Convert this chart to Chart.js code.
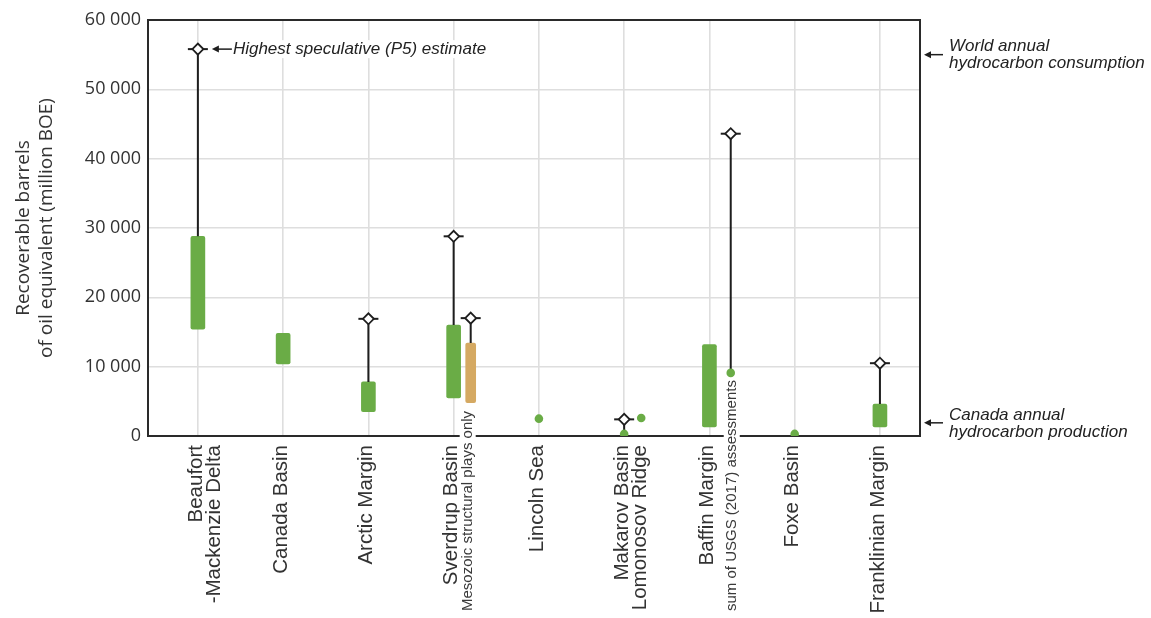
<!DOCTYPE html>
<html>
<head>
<meta charset="utf-8">
<script src="https://cdn.jsdelivr.net/npm/chart.js@4/dist/chart.umd.min.js"></script>
<style>
    body { margin: 0; background: #ffffff; }
    #wrap { width: 1151px; height: 618px; }
</style>
</head>
<body>
<div id="wrap"><canvas id="resourceChart" width="1151" height="618"></canvas></div>
<script>
// Hydrocarbon resource estimates per basin (million BOE).

var categories = [
    ["Beaufort", "-Mackenzie Delta"],
    "Canada Basin",
    "Arctic Margin",
    "Sverdrup Basin",
    "Lincoln Sea",
    ["Makarov Basin", "Lomonosov Ridge"],
    "Baffin Margin",
    "Foxe Basin",
    "Franklinian Margin"
];
var yTicks = [0, 10000, 20000, 30000, 40000, 50000, 60000];

// Green ranges (low - high estimate)
var rangePos = [0, 1, 2, 3, 6, 8];
var rangeLow = [15400, 10400, 3500, 5500, 1300, 1300];
var rangeHigh = [28800, 14800, 7800, 16000, 13200, 4600];

// Sverdrup Basin, Mesozoic structural plays only
var mesozoicPos = [3.2];
var mesozoicLow = [4800];
var mesozoicHigh = [13400];

// Single estimates (dots)
var pointPos = [4, 5, 5.2, 6.25, 7];
var pointValue = [2500, 300, 2600, 9100, 300];

// Highest speculative (P5) estimates and the value the whisker starts from
var p5Pos = [0, 2, 3, 3.2, 5, 6.25, 8];
var p5Base = [28800, 7800, 16000, 13400, 300, 9100, 4600];
var p5Value = [55800, 16900, 28800, 17000, 2400, 43600, 10500];

// Reference levels on the right side
var worldConsumption = 55000;
var canadaProduction = 1900;

var GREEN = "#6aac46";
var TAN = "#d5a962";
var INK = "#1e1e1e";

function formatThousands(value) {
    return String(value).replace(/\B(?=(\d{3})+(?!\d))/g, " ");
}

function buildRangeData(pos, low, high) {
    var data = [];
    for (var i = 0; i < pos.length; i++) {
        data.push({ x: pos[i], y: [low[i], high[i]] });
    }
    return data;
}

function buildPoints(pos, values) {
    var data = [];
    for (var i = 0; i < pos.length; i++) {
        data.push({ x: pos[i], y: values[i] });
    }
    return data;
}

function buildWhiskers() {
    var data = [];
    for (var i = 0; i < p5Pos.length; i++) {
        data.push({ x: p5Pos[i], y: p5Base[i] });
        data.push({ x: p5Pos[i], y: p5Value[i] });
        data.push({ x: p5Pos[i], y: null });
    }
    return data;
}

function drawArrow(ctx, headX, tailX, y) {
    ctx.beginPath();
    ctx.moveTo(tailX, y);
    ctx.lineTo(headX + 4, y);
    ctx.stroke();
    ctx.beginPath();
    ctx.moveTo(headX, y);
    ctx.lineTo(headX + 7, y - 3.5);
    ctx.lineTo(headX + 7, y + 3.5);
    ctx.closePath();
    ctx.fill();
}

function drawRotatedNote(ctx, text, x, y) {
    ctx.save();
    ctx.translate(x, y);
    ctx.rotate(-Math.PI / 2);
    ctx.font = "15px 'Liberation Sans', Arial, sans-serif";
    var w = ctx.measureText(text).width;
    ctx.fillStyle = "#ffffff";
    ctx.fillRect(-1, -8, w + 2, 16);
    ctx.fillStyle = "#3a3a3a";
    ctx.textAlign = "left";
    ctx.textBaseline = "middle";
    ctx.fillText(text, 0, 0);
    ctx.restore();
}

var framePlugin = {
    id: "frame",
    beforeDatasetsDraw: function (chart) {
        var ctx = chart.ctx;
        var a = chart.chartArea;
        ctx.save();
        ctx.strokeStyle = "#2a2a2a";
        ctx.lineWidth = 2;
        ctx.strokeRect(a.left, a.top, a.right - a.left, a.bottom - a.top);
        ctx.restore();
    }
};

var notePlugin = {
    id: "notes",
    afterDraw: function (chart) {
        var ctx = chart.ctx;
        var xs = chart.scales.x;
        var ys = chart.scales.y;
        var a = chart.chartArea;

        ctx.save();
        ctx.strokeStyle = INK;
        ctx.fillStyle = INK;
        ctx.lineWidth = 1.5;

        // P5 label next to the Beaufort marker
        var px = xs.getPixelForValue(p5Pos[0]);
        var py = ys.getPixelForValue(p5Value[0]);
        ctx.font = "italic 17px 'Liberation Sans', Arial, sans-serif";
        var label = "Highest speculative (P5) estimate";
        var lw = ctx.measureText(label).width;
        ctx.fillStyle = "#ffffff";
        ctx.fillRect(px + 34, py - 9, lw + 3, 18);
        ctx.fillStyle = INK;
        drawArrow(ctx, px + 14, px + 34, py);
        ctx.fillStyle = "#222222";
        ctx.textAlign = "left";
        ctx.textBaseline = "middle";
        ctx.fillText(label, px + 35, py);

        // Right side reference levels
        var levels = [
            { value: worldConsumption, lines: ["World annual", "hydrocarbon consumption"] },
            { value: canadaProduction, lines: ["Canada annual", "hydrocarbon production"] }
        ];
        for (var i = 0; i < levels.length; i++) {
            var ly = ys.getPixelForValue(levels[i].value);
            ctx.fillStyle = INK;
            drawArrow(ctx, a.right + 4, a.right + 23, ly);
            ctx.fillStyle = "#222222";
            ctx.fillText(levels[i].lines[0], a.right + 29, ly - 8);
            ctx.fillText(levels[i].lines[1], a.right + 29, ly + 9);
        }

        // Sub labels under two categories
        drawRotatedNote(ctx, "Mesozoic structural plays only", xs.getPixelForValue(mesozoicPos[0]) - 3, 611);
        drawRotatedNote(ctx, "sum of USGS (2017) assessments", xs.getPixelForValue(pointPos[3]) + 1, 611);

        ctx.restore();
    }
};

new Chart(document.getElementById("resourceChart"), {
    type: "scatter",
    data: {
        datasets: [
            {
                label: "P5",
                type: "scatter",
                data: buildPoints(p5Pos, p5Value),
                pointStyle: "rectRot",
                pointRadius: 5.5,
                pointBackgroundColor: "#ffffff",
                pointBorderColor: INK,
                pointBorderWidth: 1.8
            },
            {
                label: "Single estimate",
                type: "scatter",
                data: buildPoints(pointPos, pointValue),
                pointRadius: 4.3,
                pointBackgroundColor: GREEN,
                pointBorderWidth: 0
            },
            {
                label: "Cap",
                type: "scatter",
                data: buildPoints(p5Pos, p5Value),
                pointStyle: "line",
                pointRadius: 10,
                pointBorderColor: INK,
                pointBorderWidth: 2
            },
            {
                label: "Whisker",
                type: "line",
                data: buildWhiskers(),
                borderColor: INK,
                borderWidth: 2,
                pointRadius: 0,
                spanGaps: false,
                fill: false
            },
            {
                label: "Range",
                type: "bar",
                data: buildRangeData(rangePos, rangeLow, rangeHigh),
                backgroundColor: GREEN,
                barThickness: 14,
                borderRadius: 2,
                borderSkipped: false,
                grouped: false
            },
            {
                label: "Mesozoic only",
                type: "bar",
                data: buildRangeData(mesozoicPos, mesozoicLow, mesozoicHigh),
                backgroundColor: TAN,
                barThickness: 10,
                borderRadius: 2,
                borderSkipped: false,
                grouped: false
            }
        ]
    },
    options: {
        responsive: false,
        animation: false,
        events: [],
        layout: {
            padding: { left: 12, right: 231, top: 20, bottom: 0 }
        },
        plugins: {
            legend: { display: false },
            tooltip: { enabled: false }
        },
        scales: {
            x: {
                type: "linear",
                min: -0.585,
                max: 8.47,
                offset: false,
                border: { display: false },
                grid: { color: "#dedede", lineWidth: 1.6, drawTicks: false, offset: false },
                afterBuildTicks: function (scale) {
                    scale.ticks = categories.map(function (c, i) { return { value: i }; });
                },
                afterFit: function (scale) {
                    scale.height = 182;
                },
                ticks: {
                    autoSkip: false,
                    minRotation: 90,
                    maxRotation: 90,
                    padding: 9,
                    labelOffset: -2,
                    color: "#333333",
                    font: { family: "'Liberation Sans', Arial, sans-serif", size: 20.5, lineHeight: 0.9 },
                    callback: function (value) {
                        return categories[value];
                    }
                }
            },
            y: {
                min: 0,
                max: 60000,
                border: { display: false },
                grid: { color: "#dedede", lineWidth: 1.6, drawTicks: false },
                afterBuildTicks: function (scale) {
                    scale.ticks = yTicks.map(function (v) { return { value: v }; });
                },
                afterFit: function (scale) {
                    scale.width = 136;
                },
                title: {
                    display: true,
                    text: ["Recoverable barrels", "of oil equivalent (million BOE)"],
                    color: "#333333",
                    padding: { top: 0, bottom: 0 },
                    font: { family: "'Open Sans', sans-serif", size: 19, lineHeight: "23px" }
                },
                ticks: {
                    padding: 7,
                    color: "#333333",
                    font: { family: "'Open Sans', sans-serif", size: 18 },
                    callback: function (value) {
                        return formatThousands(value);
                    }
                }
            }
        }
    },
    plugins: [framePlugin, notePlugin]
});
</script>
</body>
</html>
